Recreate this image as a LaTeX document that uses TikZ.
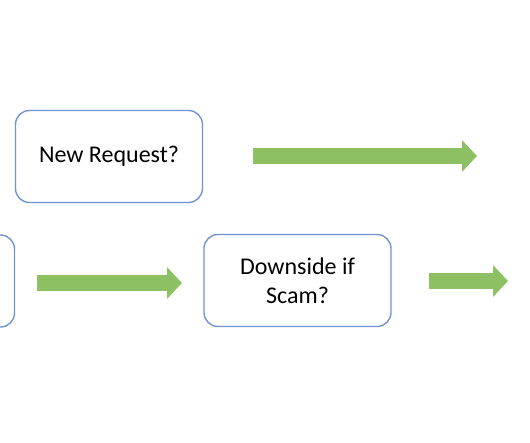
\documentclass[tikz,border=0pt]{standalone}
\usepackage{fontspec}
\setmainfont{Carlito}
\usetikzlibrary{arrows.meta, positioning}
\definecolor{boxblue}{HTML}{7293D3}
\definecolor{arrowgreen}{HTML}{8CC063}

\begin{document}
\begin{tikzpicture}[x=1pt, y=-1pt,
    step box/.style={rectangle, rounded corners=14pt, draw=boxblue, line width=1.4pt, fill=white, minimum width=187pt, minimum height=92pt, align=center, font=\fontsize{24}{29}\selectfont},
    flow/.style={draw=arrowgreen, line width=16pt, -{Triangle[length=15pt, width=31pt]}}]
\useasboundingbox (0,0) rectangle (530,442);
\clip (0,0) rectangle (530,442);
% boxes
\node[step box] (request) at (109,156.5) {New Request?};
\node[step box] (prev) at (-79,281) {};
\node[step box] (downside) at (297.5,280.5) {Downside if\\Scam?};
% arrow ends
\coordinate (a1s) at (253,156);
\coordinate (a1e) at (477,156);
\coordinate (a2s) at (37,283);
\coordinate (a2e) at (182,283);
\coordinate (a3s) at (429,281);
\coordinate (a3e) at (508,281);
% arrows
\draw[flow] (a1s) -- (a1e);
\draw[flow] (a2s) -- (a2e);
\draw[flow] (a3s) -- (a3e);
\end{tikzpicture}
\end{document}
